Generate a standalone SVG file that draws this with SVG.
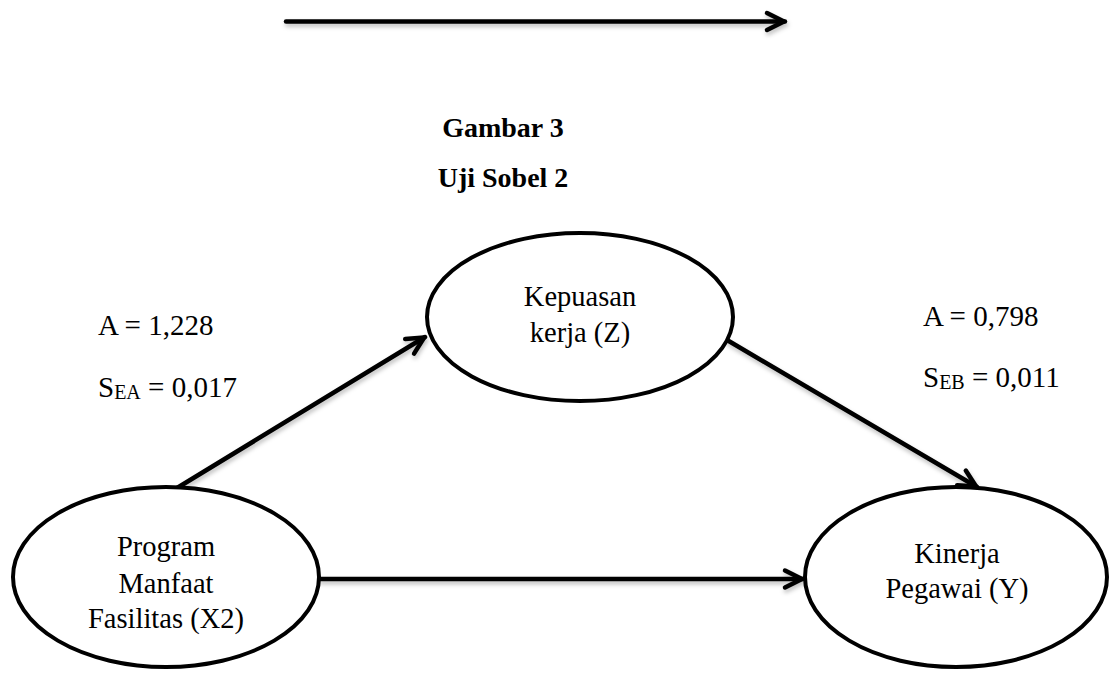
<svg xmlns="http://www.w3.org/2000/svg" width="1110" height="675" viewBox="0 0 1110 675">
<style>
.node{fill:#fff;stroke:#000;stroke-width:4}
.t{font-family:"Liberation Serif","Times New Roman",serif;font-size:28.5px;fill:#000;text-anchor:middle}
.lbl{font-family:"Liberation Serif","Times New Roman",serif;font-size:29px;fill:#000}
.sub{font-size:20px}
.title{font-family:"Liberation Serif","Times New Roman",serif;font-size:28px;font-weight:bold;fill:#000;text-anchor:middle}
.edge{stroke:#000;stroke-width:4.5;fill:none;stroke-linecap:round;marker-end:url(#arr)}
</style>
<defs>
<marker id="arr" markerUnits="userSpaceOnUse" viewBox="-22 -13 26 26" refX="1" refY="0" markerWidth="26" markerHeight="26" orient="auto">
<path d="M-17,-8.5 L0,0 L-17,8.5" fill="none" stroke="#000" stroke-width="4.5" stroke-linecap="round" stroke-linejoin="round"/>
</marker>
<filter id="sh" filterUnits="userSpaceOnUse" x="0" y="0" width="1110" height="675">
<feDropShadow dx="1" dy="3" stdDeviation="2" flood-color="#000" flood-opacity="0.25"/>
</filter>
</defs>
<g id="top-arrow" filter="url(#sh)">
<line x1="286" y1="21.5" x2="785" y2="21.5" class="edge"/>
</g>
<g id="title">
<text class="title" x="503" y="137">Gambar 3</text>
<text class="title" x="503" y="187">Uji Sobel 2</text>
</g>
<g id="connectors" filter="url(#sh)">
<line x1="177" y1="488" x2="425" y2="337" class="edge"/>
<line x1="727" y1="340" x2="977" y2="487" class="edge"/>
<line x1="320" y1="579" x2="803" y2="579" class="edge"/>
</g>
<g id="node-z">
<ellipse class="node" cx="580" cy="317" rx="153" ry="84"/>
<text class="t" x="580" y="306">Kepuasan</text>
<text class="t" x="580" y="342">kerja (Z)</text>
</g>
<g id="node-x2">
<ellipse class="node" cx="166" cy="577" rx="153" ry="90"/>
<text class="t" x="166" y="556">Program</text>
<text class="t" x="166" y="593">Manfaat</text>
<text class="t" x="166" y="628">Fasilitas (X2)</text>
</g>
<g id="node-y">
<ellipse class="node" cx="956" cy="577" rx="151" ry="90"/>
<text class="t" x="957" y="563">Kinerja</text>
<text class="t" x="957" y="598">Pegawai (Y)</text>
</g>
<g id="labels">
<text class="lbl" x="98" y="335">A = 1,228</text>
<text class="lbl" x="98" y="397">S<tspan class="sub" dy="2">EA</tspan><tspan dy="-2"> = 0,017</tspan></text>
<text class="lbl" x="923" y="326">A = 0,798</text>
<text class="lbl" x="923" y="387">S<tspan class="sub" dy="2">EB</tspan><tspan dy="-2"> = 0,011</tspan></text>
</g>
</svg>
